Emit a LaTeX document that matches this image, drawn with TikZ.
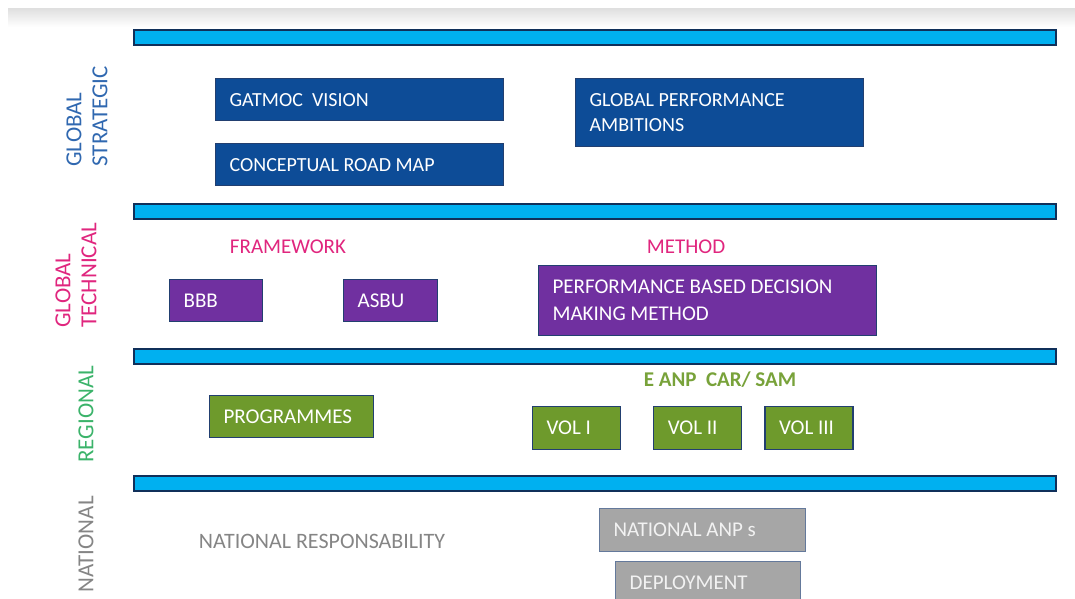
\documentclass[tikz,border=0pt]{standalone}
\usepackage{fontspec}
\setmainfont{Carlito}
\usepackage{tikz}
\usetikzlibrary{positioning}
\definecolor{barFill}{HTML}{00B0F0}
\definecolor{barBorder}{HTML}{10305A}
\definecolor{boxBorder}{HTML}{223F70}
\definecolor{blueBox}{HTML}{0D4C97}
\definecolor{purpleBox}{HTML}{7030A0}
\definecolor{greenBox}{HTML}{6E9A2C}
\definecolor{grayBox}{HTML}{A6A6A6}
\definecolor{strategicText}{HTML}{3068B0}
\definecolor{technicalText}{HTML}{E0267E}
\definecolor{regionalText}{HTML}{3BB36A}
\definecolor{anpText}{HTML}{78A23A}
\definecolor{nationalText}{HTML}{858585}
\tikzset{level-bar/.style={draw=barBorder, fill=barFill, line width=1pt, minimum width=461pt, minimum height=7.5pt, inner sep=0, anchor=north west}}
\tikzset{plan-box/.style={draw=boxBorder, line width=0.6pt, inner xsep=7pt, inner ysep=0, align=flush left, text=white, anchor=north west, font=\fontsize{10.5}{13.5}\selectfont}}
\tikzset{blue-box/.style={plan-box, fill=blueBox, font=\fontsize{10}{12.5}\selectfont}}
\tikzset{purple-box/.style={plan-box, fill=purpleBox}}
\tikzset{green-box/.style={plan-box, fill=greenBox}}
\tikzset{gray-box/.style={plan-box, fill=grayBox, draw=boxBorder!70, text=white!95!black}}
\tikzset{level-label/.style={rotate=90, anchor=west, align=left, inner sep=0, font=\fontsize{11.5}{13}\selectfont}}
\tikzset{group-label/.style={inner sep=0, font=\fontsize{10.5}{13}\selectfont}}
\newcommand{\levelbar}[2] {
    \node[level-bar] (bar#1) at (133,#2) {};
}

\begin{document}
\begin{tikzpicture}[x=0.5pt, y=-0.5pt]
    \useasboundingbox (0,0) rectangle (1075,599);
    \clip (0,0) rectangle (1075,599);
    \shade[top color=black!12, bottom color=white] (8,9) rectangle (1075,27);

    % separators
    \levelbar{1}{29}
    \levelbar{2}{203}
    \levelbar{3}{348}
    \levelbar{4}{475}

    % levels
    \node[level-label, text=strategicText] (strategic) at (87,167) {GLOBAL\\STRATEGIC};
    \node[level-label, text=technicalText] (technical) at (76,328) {GLOBAL\\TECHNICAL};
    \node[level-label, text=regionalText] (regional) at (86,463) {REGIONAL};
    \node[level-label, text=nationalText] (national) at (86,593) {NATIONAL};

    % global strategic
    \node[blue-box, text width=130pt, minimum height=21pt] (gatmoc) at (215,78) {GATMOC\ \ VISION};
    \node[blue-box, text width=130pt, minimum height=21pt, below=11pt of gatmoc] (roadmap) {CONCEPTUAL ROAD MAP};
    \node[blue-box, text width=130pt, minimum height=34pt] (ambitions) at (575,78) {GLOBAL PERFORMANCE\\AMBITIONS};

    % global technical
    \node[group-label, text=technicalText] (framework) at (288,247) {FRAMEWORK};
    \node[group-label, text=technicalText] (method) at (686,247) {METHOD};
    \node[purple-box, text width=32.5pt, minimum height=21pt] (bbb) at (169,279) {BBB};
    \node[purple-box, text width=33pt, minimum height=21pt] (asbu) at (343,279) {ASBU};
    \node[purple-box, text width=155pt, minimum height=35pt] (pbdm) at (538,265) {PERFORMANCE BASED DECISION\\MAKING METHOD};

    % regional
    \node[group-label, text=anpText, font=\bfseries\fontsize{10.5}{13}\selectfont] (eanp) at (720,380) {E ANP\ \ CAR/ SAM};
    \node[green-box, text width=68pt, minimum height=21pt] (programmes) at (209,395) {PROGRAMMES};
    \node[green-box, text width=30pt, minimum height=21.5pt] (vol1) at (532,406) {VOL I};
    \node[green-box, text width=30pt, minimum height=21.5pt, right=16pt of vol1] (vol2) {VOL II};
    \node[green-box, text width=30pt, minimum height=21.5pt, right=11pt of vol2] (vol3) {VOL III};

    % national
    \node[group-label, text=nationalText, font=\fontsize{11}{13}\selectfont] (natresp) at (322,541) {NATIONAL RESPONSABILITY};
    \node[gray-box, text width=89pt, minimum height=21.5pt] (anps) at (599,508) {NATIONAL ANP s};
    \node[gray-box, text width=78.5pt, minimum height=21pt] (deploy) at (615,561) {DEPLOYMENT};
\end{tikzpicture}
\end{document}
